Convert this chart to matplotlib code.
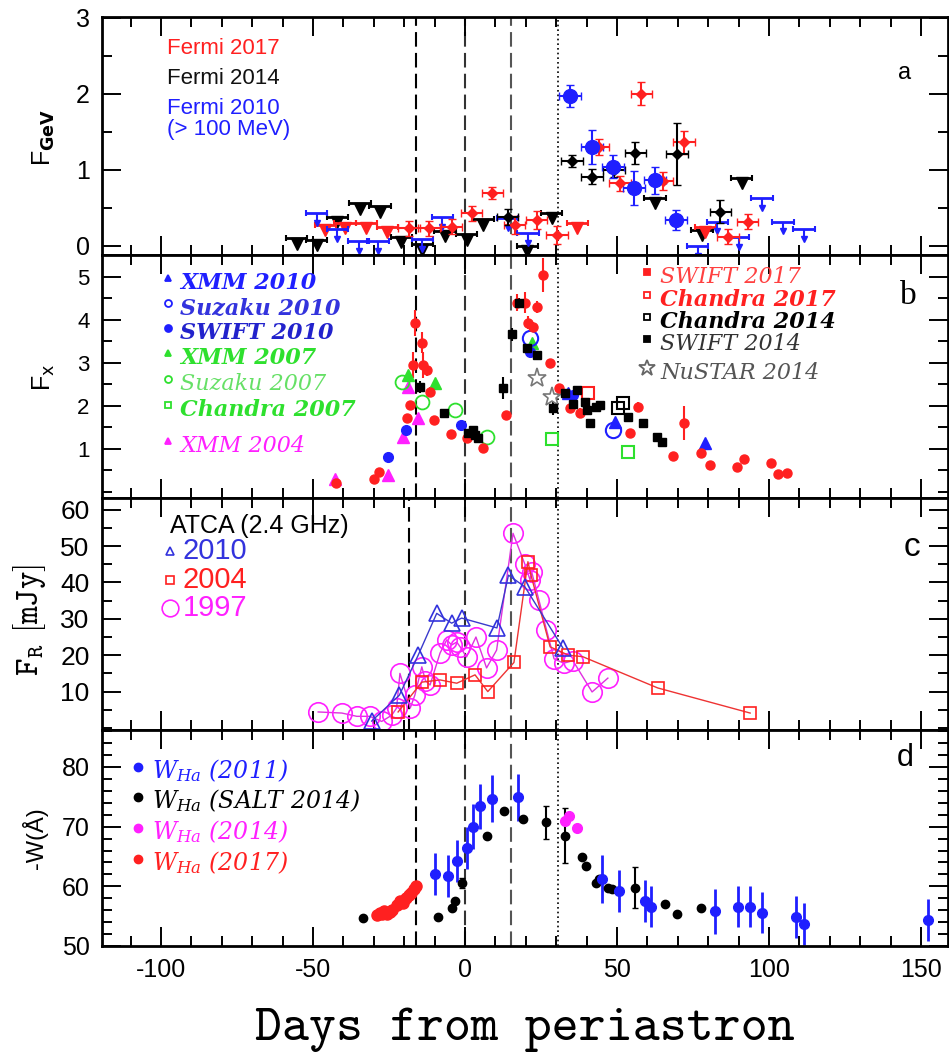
import numpy as np
import matplotlib.pyplot as plt
from matplotlib.ticker import MultipleLocator

plt.rcParams['font.family'] = ['Liberation Sans', 'DejaVu Sans']
plt.rcParams['axes.unicode_minus'] = False

# ---------------- panel a: Fermi GeV flux ----------------
fermi10_day = [34.5, 41.8, 48.7, 55.6, 62.5, 69.4]
fermi10_val = [1.97, 1.30, 1.04, 0.76, 0.86, 0.34]
fermi10_err = [0.15, 0.22, 0.15, 0.22, 0.18, 0.13]
fermi10_ul_day = [-48.8, -42.0, -35.0, -28.6, -14.0, -7.5, 14.0, 20.7, 76.5, 83.0, 90.0, 97.7, 104.6, 111.5]
fermi10_ul_val = [0.43, 0.22, 0.06, 0.06, 0.09, 0.38, 0.36, 0.17, 0.0, 0.32, 0.12, 0.63, 0.32, 0.22]

fermi14_day = [14.0, 35.2, 41.8, 49.0, 56.0, 69.7, 84.0]
fermi14_val = [0.38, 1.12, 0.91, 1.00, 1.22, 1.21, 0.45]
fermi14_err = [0.10, 0.08, 0.10, 0.10, 0.15, 0.41, 0.15]
fermi14_ul_day = [-55.4, -48.8, -42.0, -34.5, -28.0, -21.0, -14.0, -6.6, 0.5, 6.0, 20.5, 28.5, 62.5, 78.0, 91.0]
fermi14_ul_val = [0.10, 0.08, 0.38, 0.56, 0.52, 0.12, 0.02, 0.20, 0.15, 0.35, 0.0, 0.43, 0.63, 0.21, 0.89]

fermi17_day = [-18.4, -11.8, -4.4, 2.2, 9.0, 16.4, 23.6, 30.3, 44.0, 51.0, 58.0, 65.0, 72.0, 86.5, 93.0]
fermi17_val = [0.23, 0.23, 0.25, 0.43, 0.70, 0.27, 0.34, 0.14, 1.30, 0.82, 2.00, 0.85, 1.36, 0.12, 0.32]
fermi17_err = [0.10, 0.10, 0.10, 0.10, 0.08, 0.12, 0.12, 0.12, 0.10, 0.10, 0.15, 0.12, 0.15, 0.10, 0.10]
fermi17_ul_day = [-46.0, -39.5, -32.5, -25.5, 37.0, 79.0]
fermi17_ul_val = [0.28, 0.30, 0.30, 0.25, 0.30, 0.25]

# ---------------- panel b: X-ray flux ----------------
swift17_day = [-42.5, -30, -28.2, -19.2, -18, -17, -16.5, -14.3, -13.9, -12.6, -11.5, -10.2, -4.5, 0.5,
               6, 13.5, 17, 19.7, 20.8, 22.4, 23.7, 25.7, 28, 31, 34.5, 37.8, 54.3, 57, 68.4, 72,
               77.6, 80.6, 89.5, 91.8, 100.7, 103, 106]
swift17_val = [0.2, 0.3, 0.47, 1.72, 2.02, 2.95, 3.93, 3.47, 2.95, 2.84, 2.33, 1.67, 1.35, 1.25,
               1.02, 1.78, 4.4, 4.4, 3.93, 3.84, 4.3, 5.05, 3.0, 2.42, 1.95, 1.83, 1.37, 1.98, 0.84, 1.6,
               0.9, 0.63, 0.59, 0.77, 0.67, 0.42, 0.44]
swift17_err = [0.05, 0.05, 0.05, 0.1, 0.1, 0.3, 0.3, 0.25, 0.3, 0.15, 0.1, 0.1, 0.08, 0.08,
               0.08, 0.1, 0.2, 0.25, 0.15, 0.12, 0.15, 0.4, 0.1, 0.1, 0.1, 0.12, 0.08, 0.12, 0.08, 0.4,
               0.08, 0.08, 0.08, 0.08, 0.08, 0.08, 0.08]
swift10_day = [-25.3, -19.4, -1.3, 21.4, 35.5]
swift10_val = [0.82, 1.44, 1.55, 3.26, 2.26]
swift14_day = [-14.8, -6.9, 1.0, 2.7, 3.3, 4.3, 12.5, 15.4, 17.8, 20.3, 23.6, 29.0, 33.0, 35.5, 37.0,
               39.5, 40.0, 41.0, 43.0, 44.4, 53.6, 58.6, 63.0, 64.8]
swift14_val = [2.44, 1.84, 1.37, 1.44, 1.33, 1.26, 2.42, 3.67, 4.4, 3.35, 3.19, 1.95, 2.3, 2.05, 2.37,
               2.1, 1.9, 1.6, 1.98, 2.02, 1.74, 1.6, 1.28, 1.16]
swift14_err = [0.15, 0.05, 0.05, 0.05, 0.05, 0.05, 0.25, 0.15, 0.1, 0.1, 0.05, 0.15, 0.05, 0.05, 0.05,
               0.05, 0.05, 0.05, 0.05, 0.05, 0.05, 0.05, 0.05, 0.05]
chandra14_day = [50.3, 52.0]
chandra14_val = [1.95, 2.07]
chandra17_day = [40.5]
chandra17_val = [2.3]
nustar14_day = [23.7, 28.6]
nustar14_val = [2.65, 2.2]
xmm10_day = [34.0, 49.5, 79.0]
xmm10_val = [2.3, 1.62, 1.14]
suzaku10_day = [21.4, 48.7]
suzaku10_val = [3.58, 1.44]
xmm07_day = [-18.7, -9.9, 22.0]
xmm07_val = [2.72, 2.53, 3.47]
suzaku07_day = [-20.7, -14.0, -3.3, 7.2]
suzaku07_val = [2.56, 2.1, 1.9, 1.28]
chandra07_day = [28.6, 53.6]
chandra07_val = [1.23, 0.93]
xmm04_day = [-42.8, -25.3, -20.4, -18.7, -15.5]
xmm04_val = [0.3, 0.4, 1.28, 2.44, 1.72]

# ---------------- panel c: ATCA radio flux ----------------
atca10_day = [-30.7, -21.6, -15.4, -9.3, -4.4, -1.1, 10.5, 14.3, 19.7, 32.2]
atca10_val = [1.9, 9.0, 20.0, 31.5, 28.8, 30.2, 27.5, 42.0, 38.8, 22.0]
atca04_day = [-22.0, -14.2, -8.2, -2.7, 3.3, 7.5, 16.1, 20.7, 21.7, 28.0, 34.0, 38.7, 63.4, 93.8]
atca04_val = [4.4, 12.6, 13.2, 12.3, 14.6, 10.0, 18.0, 45.7, 42.0, 22.3, 20.0, 19.6, 11.0, 4.1]
atca97_day = [-48.3, -40.5, -35.6, -31.3, -27.4, -24.1, -22.5, -21.4, -18.0, -16.5, -14.2, -13.0,
              -11.5, -8.2, -6.0, -4.4, -2.7, -1.6, 0.5, 3.6, 7.1, 10.4, 15.8, 19.7, 21.4, 21.9,
              24.3, 26.8, 29.3, 32.5, 35.5, 41.8, 47.0]
atca97_val = [4.4, 4.1, 3.2, 3.2, 1.8, 3.5, 5.5, 15.0, 5.5, 9.0, 16.8, 13.0,
              11.8, 20.6, 24.2, 22.8, 23.6, 22.3, 19.5, 25.0, 16.5, 21.4, 53.5, 45.0, 40.7, 43.0,
              35.2, 27.0, 19.0, 17.8, 18.5, 9.9, 13.7]

# ---------------- panel d: H-alpha equivalent width ----------------
ha11_day = [-9.8, -5.6, -2.7, 0.6, 2.7, 4.9, 8.9, 17.4, 45.1, 50.7, 59.2, 61.2, 82.2, 89.8, 93.8,
            97.8, 108.9, 111.5, 152.3]
ha11_val = [62.0, 61.7, 64.2, 66.4, 70.0, 73.4, 74.7, 74.9, 61.2, 59.2, 57.5, 56.6, 55.8, 56.6, 56.6,
            55.6, 54.8, 53.7, 54.4]
ha11_err = [3.5, 3.5, 3.5, 3.5, 3.8, 3.8, 4.0, 4.0, 4.0, 3.5, 3.5, 3.5, 3.8, 3.5, 3.5, 3.5, 3.5, 3.5, 3.5]
salt14_day = [-33.5, -8.8, -4.4, -3.3, -1.0, 7.1, 12.9, 19.0, 26.8, 32.8, 38.5, 39.7, 43.2, 44.0, 47.0,
              48.3, 56.0, 65.8, 69.6, 77.6]
salt14_val = [54.7, 54.9, 56.4, 57.6, 60.6, 68.5, 72.7, 71.2, 70.7, 68.5, 64.9, 63.4, 60.5, 61.2, 59.8,
              59.5, 59.8, 57.0, 55.4, 56.3]
salt14_err = [0, 0, 0, 0, 0.8, 0, 0, 0, 2.7, 4.6, 0, 0, 0, 0, 0, 0, 3.4, 0, 0, 0]
ha14_day = [32.9, 34.2, 36.8]
ha14_val = [71.0, 71.7, 69.7]
ha17_day = [-29.0, -28.0, -27.2, -26.5, -25.5, -24.8, -24.0, -22.5, -21.5, -20.5, -19.5, -18.5, -17.6,
            -16.8, -16.2]
ha17_val = [55.2, 55.6, 55.4, 55.9, 55.3, 55.7, 56.0, 56.8, 57.6, 57.2, 58.0, 58.6, 58.9, 59.5, 60.0]

BLUE = '#1f1fff'
RED = '#ff2020'
GREEN = '#2ee02e'
MAG = '#ff20ff'

W_PX, H_PX = 949, 1061


def fx(px):
    return px / W_PX


def fy(py):
    return 1 - py / H_PX


fig = plt.figure(figsize=(9.49, 10.61), dpi=100)
L, W = 0.1075, 0.8915
ax_a = fig.add_axes([L, 0.7597, W, 0.2243])
ax_b = fig.add_axes([L, 0.5306, W, 0.2291])
ax_c = fig.add_axes([L, 0.3120, W, 0.2186])
ax_d = fig.add_axes([L, 0.1084, W, 0.2036])


def frame(ax, ylim, major, minor, lsize, family=None):
    ax.set_xlim(-119.4, 158.9)
    ax.set_ylim(*ylim)
    ax.xaxis.set_major_locator(MultipleLocator(50))
    ax.xaxis.set_minor_locator(MultipleLocator(10))
    ax.yaxis.set_major_locator(MultipleLocator(major))
    ax.yaxis.set_minor_locator(MultipleLocator(minor))
    ax.tick_params(which='both', direction='in', top=True, right=True, width=1.4,
                   labelbottom=False, labelsize=lsize, pad=9)
    ax.tick_params(which='major', length=14)
    ax.tick_params(which='minor', length=7)
    for s in ax.spines.values():
        s.set_linewidth(2)
    if family:
        for t in ax.get_yticklabels():
            t.set_family(family)


def markers_lines(ax, left=-16):
    ax.axvline(left, color='k', lw=1.5, dashes=(7, 3), zorder=1)
    ax.axvline(0, color='#333333', lw=1.5, dashes=(7, 3), zorder=1)
    ax.axvline(15, color='#555555', lw=1.5, dashes=(7, 3), zorder=1)
    ax.axvline(30.6, color='k', lw=1.2, dashes=(1, 1.8), zorder=1)


def upper_limits(ax, x, y, color, drop, ms, stem=True):
    x = np.asarray(x)
    y = np.asarray(y)
    ax.errorbar(x, y, xerr=3.5, fmt='none', ecolor=color, elinewidth=2, capsize=2.5, capthick=1.5)
    if stem:
        ax.vlines(x, y - drop, y, color=color, lw=1.5)
    ax.plot(x, y - drop, 'v', color=color, mec=color, ms=ms, ls='none')


# ---- panel a
markers_lines(ax_a)
upper_limits(ax_a, fermi14_ul_day, fermi14_ul_val, 'k', 0.07, 8)
upper_limits(ax_a, fermi17_ul_day, fermi17_ul_val, RED, 0.07, 8)
upper_limits(ax_a, fermi10_ul_day, fermi10_ul_val, BLUE, 0.13, 5)
ax_a.errorbar(fermi17_day, fermi17_val, xerr=3.5, yerr=fermi17_err, fmt='D', color=RED, ms=5,
              elinewidth=1.5, capsize=3)
ax_a.errorbar(fermi14_day, fermi14_val, xerr=3.5, yerr=fermi14_err, fmt='D', color='k', ms=5,
              elinewidth=1.5, capsize=3)
ax_a.errorbar(fermi10_day, fermi10_val, xerr=3.5, yerr=fermi10_err, fmt='o', color=BLUE, ms=10,
              elinewidth=1.5, capsize=3)
frame(ax_a, (-0.12, 3.01), 1, 0.5, 18)
ax_a.text(fx(167), fy(48), 'Fermi 2017', color=RED, fontsize=16, va='center', transform=fig.transFigure)
ax_a.text(fx(167), fy(78), 'Fermi 2014', color='#111111', fontsize=16, va='center', transform=fig.transFigure)
ax_a.text(fx(167), fy(119), 'Fermi 2010\n(> 100 MeV)', color=BLUE, fontsize=16, va='center',
          linespacing=0.95, transform=fig.transFigure)
fig.text(fx(905), fy(73), 'a', fontsize=17, ha='center', va='center')
fig.text(fx(44), fy(137), r'F$_{\mathbf{GeV}}$', fontsize=18, rotation=90, ha='center', va='center')

# ---- panel b
markers_lines(ax_b)
ax_b.errorbar(swift17_day, swift17_val, yerr=swift17_err, fmt='o', color=RED, ms=6.5, elinewidth=1.5)
ax_b.plot(xmm04_day, xmm04_val, '^', color=MAG, ms=9, ls='none')
ax_b.plot(xmm07_day, xmm07_val, '^', color=GREEN, ms=8, ls='none')
ax_b.plot(suzaku07_day, suzaku07_val, 'o', mfc='none', mec=GREEN, mew=1.3, ms=10, ls='none')
ax_b.plot(chandra07_day, chandra07_val, 's', mfc='none', mec=GREEN, mew=1.5, ms=8, ls='none')
ax_b.errorbar(swift14_day, swift14_val, yerr=swift14_err, fmt='s', color='k', ms=6, elinewidth=1.5)
ax_b.plot(swift10_day, swift10_val, 'o', color=BLUE, ms=7, ls='none')
ax_b.plot(suzaku10_day, suzaku10_val, 'o', mfc='none', mec=BLUE, mew=1.5, ms=11, ls='none')
ax_b.plot(xmm10_day, xmm10_val, '^', color=BLUE, ms=8, ls='none')
ax_b.plot(chandra17_day, chandra17_val, 's', mfc='none', mec=RED, mew=1.5, ms=8, ls='none')
ax_b.plot(chandra14_day, chandra14_val, 's', mfc='none', mec='k', mew=1.5, ms=8, ls='none')
ax_b.plot(nustar14_day, nustar14_val, '*', mfc='none', mec='#777777', mew=1.2, ms=14, ls='none')
frame(ax_b, (-0.14, 5.51), 1, 0.5, 16)
ax_b.set_yticks([1, 2, 3, 4, 5])

left_keys = [('^', BLUE, 'full', 'XMM 2010', 'bold', BLUE, 283),
             ('o', BLUE, 'none', 'Suzaku 2010', 'bold', '#3333dd', 308),
             ('o', BLUE, 'full', 'SWIFT 2010', 'bold', '#2222cc', 333),
             ('^', GREEN, 'full', 'XMM 2007', 'bold', GREEN, 358),
             ('o', GREEN, 'none', 'Suzaku 2007', 'normal', '#66e066', 384),
             ('s', GREEN, 'none', 'Chandra 2007', 'bold', GREEN, 410),
             ('^', MAG, 'full', 'XMM 2004', 'normal', MAG, 446)]
right_keys = [('s', RED, 'full', 'SWIFT 2017', 'normal', '#ff4040', 277),
              ('s', RED, 'none', 'Chandra 2017', 'bold', RED, 300),
              ('s', 'k', 'none', 'Chandra 2014', 'bold', 'k', 322),
              ('s', 'k', 'full', 'SWIFT 2014', 'normal', '#333333', 344),
              ('*', '#666666', 'none', 'NuSTAR 2014', 'normal', '#555555', 373)]
for keys, mx, tx in [(left_keys, 168, 180), (right_keys, 647, 660)]:
    for m, mc, fill, label, weight, tc, py in keys:
        fig.lines.append(plt.Line2D([fx(mx)], [fy(py - 5)], marker=m, color=mc, ms=5 if m != '*' else 12,
                                    mfc=mc if fill == 'full' else 'none', mec=mc, mew=1.3,
                                    transform=fig.transFigure, figure=fig))
        fig.text(fx(tx), fy(py), label, color=tc, fontsize=16, family='DejaVu Serif', style='italic',
                 weight=weight, va='center')
fig.text(fx(908), fy(296), 'b', fontsize=24, family='Liberation Serif', ha='center', va='center')
fig.text(fx(44), fy(377), r'F$_{\rm x}$', fontsize=18, rotation=90, ha='center', va='center')

# ---- panel c
markers_lines(ax_c, left=-18.4)
ax_c.plot(atca97_day, atca97_val, '-o', color='#e030e0', lw=1, mfc='none', mec=MAG, mew=1.2, ms=14)
ax_c.plot(atca04_day, atca04_val, '-s', color='#ee3333', lw=1, mfc='none', mec=RED, mew=1.2, ms=9)
ax_c.plot(atca10_day, atca10_val, '-^', color='#3a3acc', lw=1, mfc='none', mec='#3333dd', mew=1.2, ms=11)
frame(ax_c, (-0.55, 63.2), 10, 5, 19)
ax_c.set_yticks([10, 20, 30, 40, 50, 60])
fig.text(fx(170), fy(526), 'ATCA (2.4 GHz)', fontsize=18, va='center')
c_keys = [('^', '#3333dd', '2010', '#3333dd', 551), ('s', RED, '2004', RED, 580),
          ('o', MAG, '1997', MAG, 608)]
for m, mc, label, tc, py in c_keys:
    fig.lines.append(plt.Line2D([fx(170)], [fy(py)], marker=m, color=mc, mfc='none', mec=mc,
                                ms=6 if m != 'o' else 12, mew=1.2, transform=fig.transFigure, figure=fig))
    fig.text(fx(183), fy(py), label, color=tc, fontsize=21, va='center')
fig.text(fx(912), fy(547), 'c', fontsize=24, ha='center', va='center')
fig.text(fx(30), fy(620), r'$\mathtt{F}_{\mathtt{R}}\ \mathtt{[mJy]}$', fontsize=24, rotation=90,
         ha='center', va='center', math_fontfamily='cm')

# ---- panel d
markers_lines(ax_d)
ax_d.errorbar(salt14_day, salt14_val, yerr=salt14_err, fmt='o', color='k', ms=6, elinewidth=1.5, capsize=2)
ax_d.errorbar(ha11_day, ha11_val, yerr=ha11_err, fmt='o', color=BLUE, ms=7, elinewidth=2)
ax_d.plot(ha14_day, ha14_val, 'o', color=MAG, ms=7, ls='none')
ax_d.plot(ha17_day, ha17_val, 'o', color=RED, ms=8, ls='none')
frame(ax_d, (50, 86.2), 10, 2, 17)
ax_d.tick_params(labelbottom=True, labelsize=18)
d_keys = [(BLUE, '(2011)', 767), ('k', '(SALT 2014)', 797), (MAG, '(2014)', 828), (RED, '(2017)', 859)]
for c, label, py in d_keys:
    fig.lines.append(plt.Line2D([fx(138)], [fy(py)], marker='o', color=c, ms=6,
                                transform=fig.transFigure, figure=fig))
    fig.text(fx(152), fy(py + 4), r'$W_{Ha}$ ' + label, color=c, fontsize=17, family='DejaVu Serif',
             style='italic', va='center', math_fontfamily='dejavuserif')
fig.text(fx(905), fy(758), 'd', fontsize=22, ha='center', va='center')
fig.text(fx(35), fy(838), '-W(\u00c5)', fontsize=17, rotation=90, ha='center', va='center')

fig.text(fx(525), fy(1030), 'Days from periastron', fontsize=37, family='cmtt10', ha='center', va='center')

fig.savefig('out.png', dpi=100)
